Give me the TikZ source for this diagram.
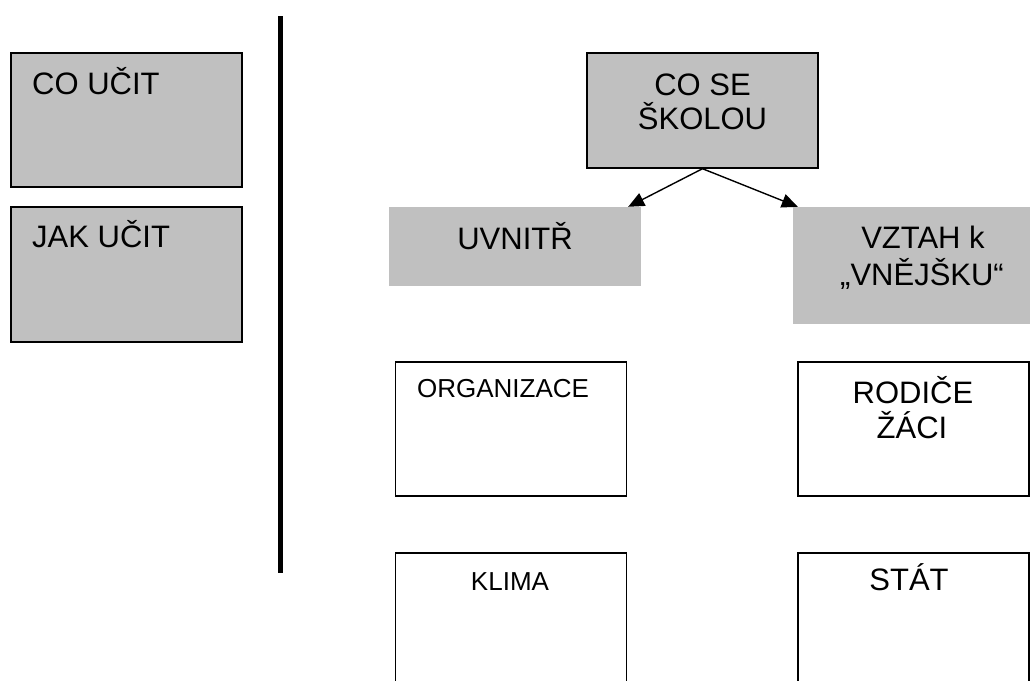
\documentclass[tikz,border=0pt]{standalone}
\usepackage{fontspec}
\setmainfont{Liberation Sans}
\usetikzlibrary{arrows.meta,calc}
\definecolor{boxgrey}{HTML}{C0C0C0}
\begin{document}
\begin{tikzpicture}[x=1pt,y=-1pt,
  outlined/.style={draw=black, line width=1.4pt, inner sep=0pt, minimum width=#1},
  greybox/.style={outlined=231pt, fill=boxgrey},
  whitebox/.style={outlined=231pt, fill=white},
  plainbox/.style={fill=boxgrey, inner sep=0pt},
  big/.style={font=\fontsize{31}{35}\selectfont, inner sep=0pt},
  small/.style={font=\fontsize{26}{30}\selectfont, inner sep=0pt},
  conn/.style={line width=1.4pt, -{Triangle[length=16pt,width=14pt]}},
  sep/.style={line width=5pt}
]
\useasboundingbox (0,0) rectangle (1030,680);
\clip (0,0) rectangle (1030,680);

% left column
\node[greybox, minimum height=134pt] (coucit) at (126.5,120) {};
\node[greybox, minimum height=135pt] (jakucit) at (126.5,274.5) {};
\node[big, anchor=base west] (tcoucit) at (32,94) {CO UČIT};
\node[big, anchor=base west] (tjakucit) at (32,247) {JAK UČIT};

% separator
\coordinate (septop) at (280,16);
\coordinate (sepbot) at (280,573);
\draw[sep] (septop) -- (sepbot);

% top box
\node[greybox, minimum height=115pt] (cose) at (702.5,110.5) {};
\node[big, anchor=base] (tcose1) at (702.5,95) {CO SE};
\node[big, anchor=base] (tcose2) at (702.5,129) {ŠKOLOU};

% second row
\node[plainbox, minimum width=252pt, minimum height=79pt] (uvnitr) at (515,246.5) {};
\node[big, anchor=base] (tuvnitr) at (515,249) {UVNITŘ};
\node[plainbox, minimum width=239pt, minimum height=117pt] (vztah) at (912.5,265.5) {};
\node[big, anchor=base] (tvztah1) at (923,248) {VZTAH k};
\node[big, anchor=base] (tvztah2) at (922,285) {„VNĚJŠKU“};

% connectors
\coordinate (lefttip) at ($(uvnitr.north east)+(-13,0)$);
\coordinate (righttip) at ($(vztah.north west)+(5,0)$);
\draw[conn] (cose.south) -- (lefttip);
\draw[conn] (cose.south) -- (righttip);

% third row
\node[whitebox, minimum height=134pt] (organizace) at (511,429) {};
\node[small, anchor=base] (torganizace) at (503,397) {ORGANIZACE};
\node[whitebox, minimum height=134pt] (rodice) at (913.5,429) {};
\node[big, anchor=base] (trodice1) at (913,403) {RODIČE};
\node[big, anchor=base] (trodice2) at (912,438) {ŽÁCI};

% fourth row
\node[whitebox, minimum height=134pt] (klima) at (511,620) {};
\node[small, anchor=base] (tklima) at (510,590) {KLIMA};
\node[whitebox, minimum height=134pt] (stat) at (913.5,620) {};
\node[big, anchor=base] (tstat) at (909,590) {STÁT};
\end{tikzpicture}
\end{document}
